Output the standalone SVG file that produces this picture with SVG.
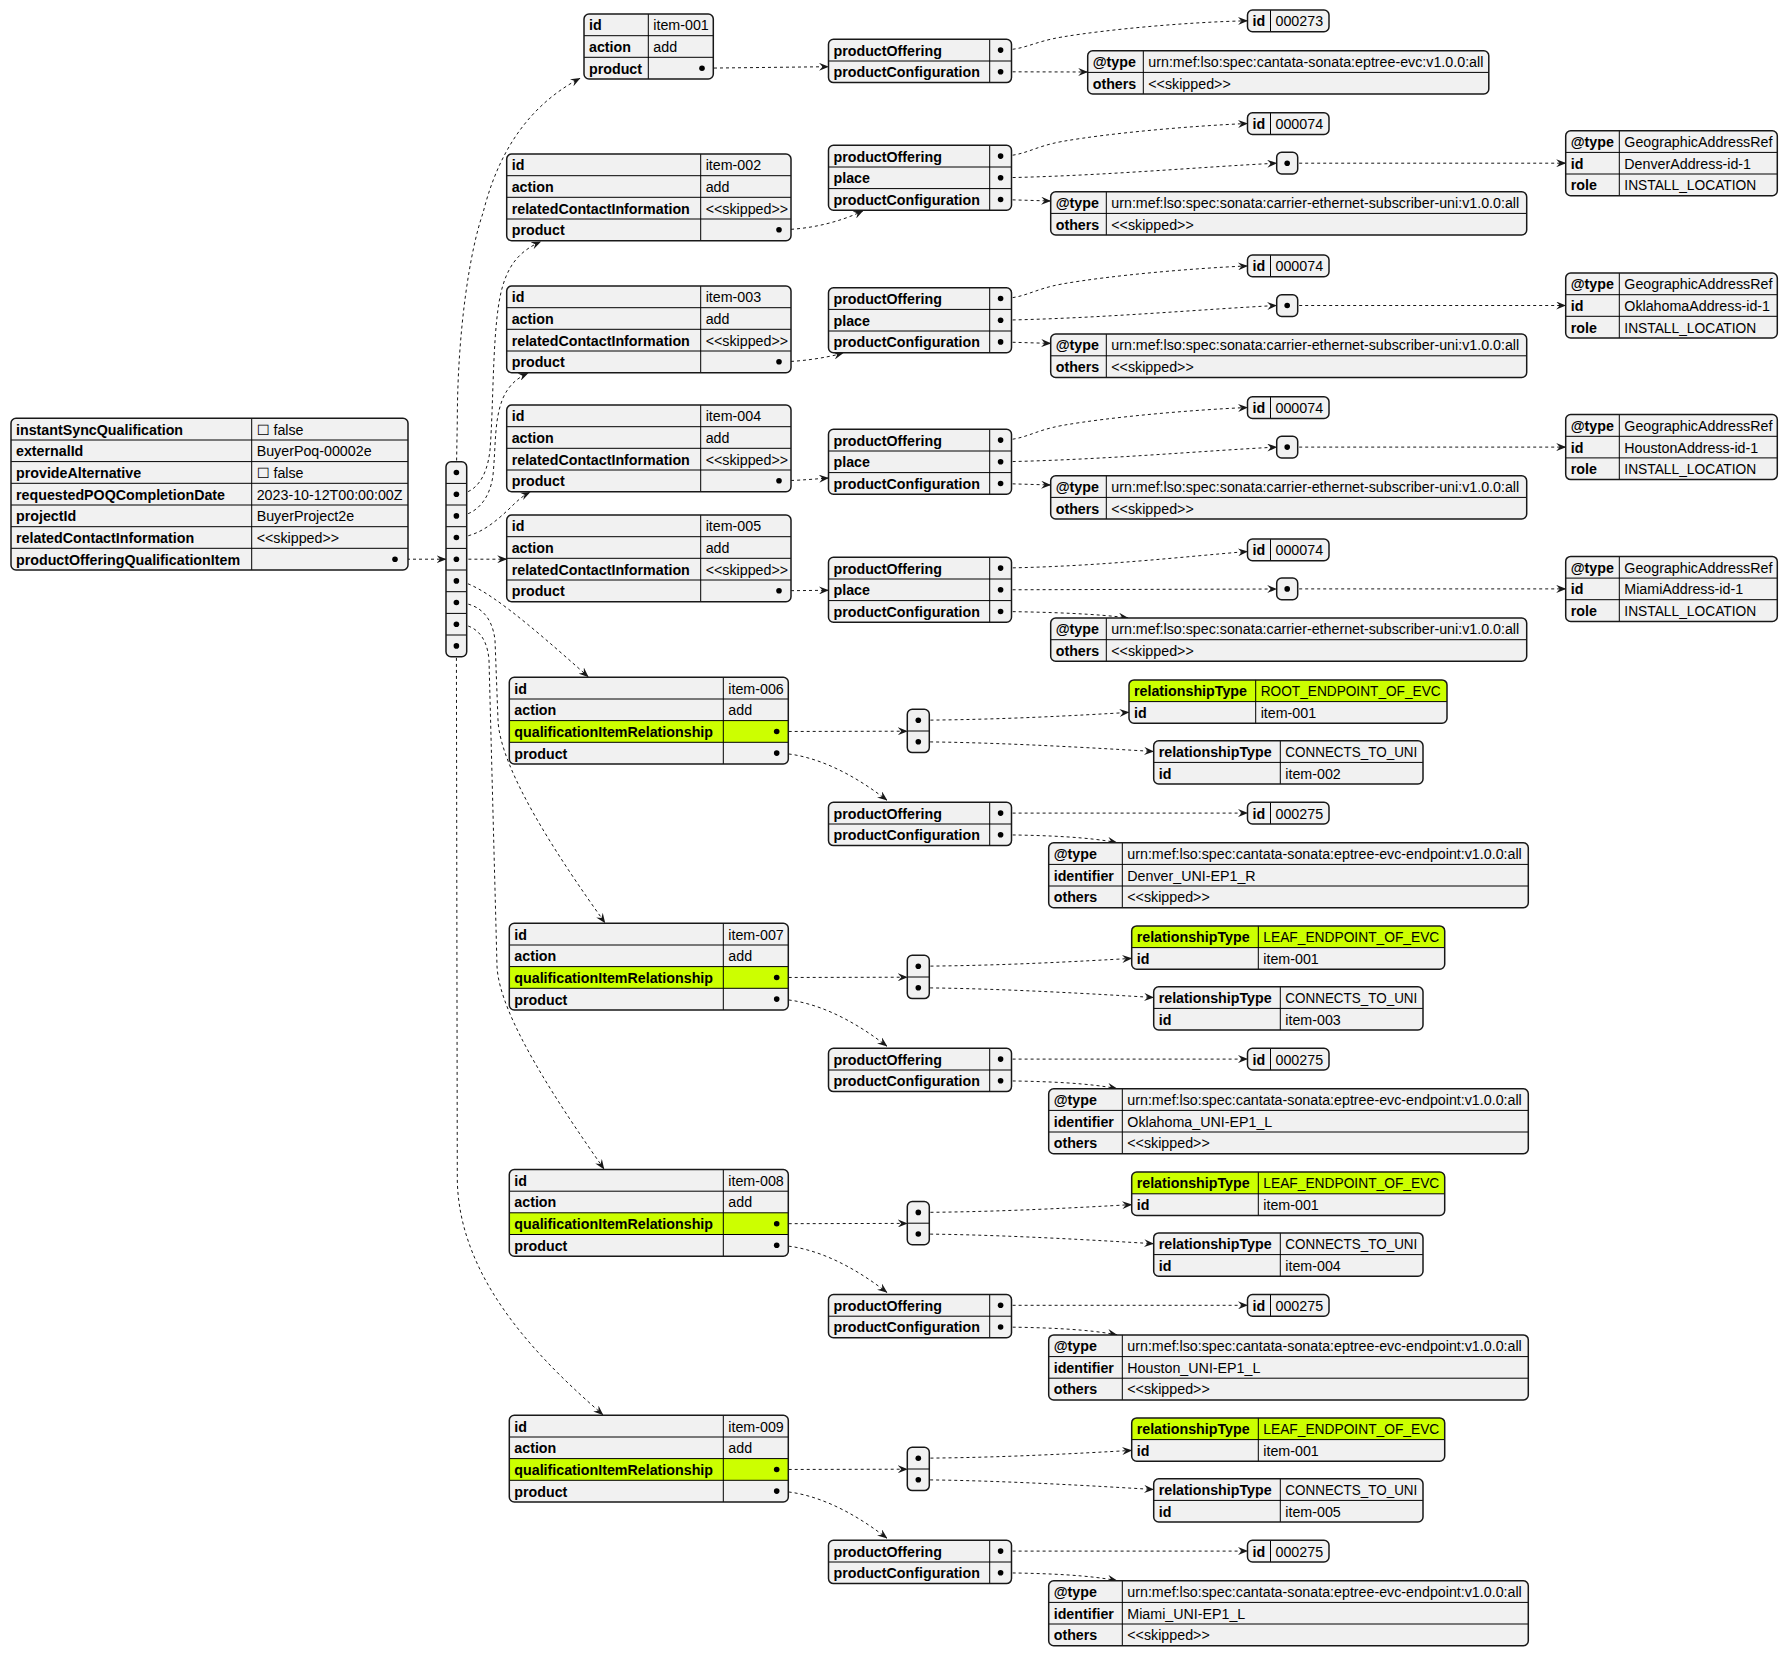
<svg xmlns="http://www.w3.org/2000/svg" width="1788" height="1656" viewBox="0 0 1788 1656">
<defs>
<style>
.bx{fill:#F1F1F1;stroke:none}
.bd{fill:none;stroke:#181818;stroke-width:1.5}
.ln{fill:none;stroke:#000;stroke-width:1}
.hl{fill:#CCFF00;stroke:none}
.k{font-family:"Liberation Sans",Arial,"DejaVu Sans",sans-serif;font-size:14.25px;font-weight:bold;fill:#000}
.v{font-family:"Liberation Sans",Arial,"DejaVu Sans",sans-serif;font-size:14.25px;fill:#000}
.e{fill:none;stroke:#181818;stroke-width:1;stroke-dasharray:3,3;marker-end:url(#ah)}
.d{fill:#000}
</style>
<marker id="ah" viewBox="0 0 10 8" refX="9.5" refY="4" markerWidth="10" markerHeight="8" orient="auto" markerUnits="userSpaceOnUse"><path d="M0,0 L10,4 L0,8 L3.5,4 Z" fill="#181818"/></marker>
</defs>
<rect width="1788" height="1656" fill="#FFFFFF"/>

<g id="connectors">
<path class="e" d="M395,559.2 L446,559.2"/>
<path class="e" d="M456.4,472.5 L457.3,420 C457.5,330 470,250 483,213 C495,165 520,110 580,78.3"/>
<path class="e" d="M456.4,494.2 C475,494 487,478 490,450 C494,400 492,320 503,285 C510,262 522,250 540.7,241.7"/>
<path class="e" d="M456.4,515.9 C475,516 490,500 493,475 C496,445 494,420 503,398 C509,385 517,378 528,373.3"/>
<path class="e" d="M456.4,537.5 C478,537 495,522 508,510 C515,503 522,496 530,492.2"/>
<path class="e" d="M456.4,559.2 L506.7,559.2"/>
<path class="e" d="M456.4,580.9 C480,582 530,625 588.3,676.8"/>
<path class="e" d="M456.4,602.5 C478,603 492,615 495,640 L498,720 C500,770 560,860 605,922.8"/>
<path class="e" d="M456.4,624.2 C474,624 487,635 489,660 L497,966 C499,1016 560,1106 604,1169"/>
<path class="e" d="M456.4,645.9 L457.3,1180 C459,1280 540,1360 603,1414.8"/>

<path class="e" d="M702,68.2 L828.5,66.7"/>
<path class="e" d="M1000.6,50.1 C1025,50 1032,42 1062,37 C1110,29 1190,22 1247.5,20.8"/>
<path class="e" d="M1000.6,71.8 L1087.7,72"/>

<path class="e" d="M779,229.8 C810,229.5 840,222 863,210.8"/>
<path class="e" d="M1000.6,156.1 C1025,156 1032,147 1062,141.5 C1110,133 1190,126 1247.5,123.5"/>
<path class="e" d="M1000.6,177.8 C1100,176 1200,167 1276.7,163.2"/>
<path class="e" d="M1000.6,199.5 L1050.7,201"/>
<path class="e" d="M1287.2,163.2 L1565.7,163.2"/>

<path class="e" d="M779,361.8 C800,361.8 825,358 843,353.2"/>
<path class="e" d="M1000.6,298.5 C1025,298.4 1032,289.5 1062,284 C1110,275.5 1190,268.5 1247.5,265.9"/>
<path class="e" d="M1000.6,320.2 C1100,318.4 1200,309.4 1276.7,305.5"/>
<path class="e" d="M1000.6,341.9 L1050.7,343.4"/>
<path class="e" d="M1287.2,305.5 L1565.7,305.5"/>

<path class="e" d="M779,480.8 C800,480.5 815,479 828.5,478"/>
<path class="e" d="M1000.6,440.1 C1025,440 1032,431 1062,425.5 C1110,417 1190,410 1247.5,407.5"/>
<path class="e" d="M1000.6,461.8 C1100,460 1200,451 1276.7,447.1"/>
<path class="e" d="M1000.6,483.5 L1050.7,485"/>
<path class="e" d="M1287.2,447.1 L1565.7,447.1"/>

<path class="e" d="M779,590.8 L828.5,590.3"/>
<path class="e" d="M1000.6,568.1 C1100,566.5 1180,557 1247.5,551.5"/>
<path class="e" d="M1000.6,589.8 L1276.7,589"/>
<path class="e" d="M1000.6,611.5 C1050,612 1100,614 1128,618"/>
<path class="e" d="M1287.2,588.9 L1565.7,588.9"/>

<path class="e" d="M776.7,731.5 L907.3,731.2"/>
<path class="e" d="M776.7,753.1 C815,753.8 855,775.3 887,800.3"/>
<path class="e" d="M918.3,720.2 C1000,719.8 1080,715.3 1129,712.4"/>
<path class="e" d="M918.3,741.8 C1000,742.3 1100,748.3 1153.7,751.5"/>
<path class="e" d="M1000.6,813.1 L1247.5,813.1"/>
<path class="e" d="M1000.6,834.8 C1050,835.3 1090,837.3 1117,842.7"/>

<path class="e" d="M776.7,977.5 L907.3,977.2"/>
<path class="e" d="M776.7,999.1 C815,999.8 855,1021.3 887,1046.3"/>
<path class="e" d="M918.3,966.2 C1000,965.8 1080,961.3 1131.7,958.4"/>
<path class="e" d="M918.3,987.8 C1000,988.3 1100,994.3 1153.7,997.5"/>
<path class="e" d="M1000.6,1059.1 L1247.5,1059.1"/>
<path class="e" d="M1000.6,1080.8 C1050,1081.3 1090,1083.3 1117,1088.7"/>

<path class="e" d="M776.7,1223.7 L907.3,1223.4"/>
<path class="e" d="M776.7,1245.3 C815,1246 855,1267.5 887,1292.5"/>
<path class="e" d="M918.3,1212.4 C1000,1212 1080,1207.5 1131.7,1204.6"/>
<path class="e" d="M918.3,1234 C1000,1234.5 1100,1240.5 1153.7,1243.7"/>
<path class="e" d="M1000.6,1305.3 L1247.5,1305.3"/>
<path class="e" d="M1000.6,1327 C1050,1327.5 1090,1329.5 1117,1334.9"/>

<path class="e" d="M776.7,1469.5 L907.3,1469.2"/>
<path class="e" d="M776.7,1491.1 C815,1491.8 855,1513.3 887,1538.3"/>
<path class="e" d="M918.3,1458.2 C1000,1457.8 1080,1453.3 1131.7,1450.4"/>
<path class="e" d="M918.3,1479.8 C1000,1480.3 1100,1486.3 1153.7,1489.5"/>
<path class="e" d="M1000.6,1551.1 L1247.5,1551.1"/>
<path class="e" d="M1000.6,1572.8 C1050,1573.3 1090,1575.3 1117,1580.7"/>
</g>

<g id="root">
<rect class="bx" x="11" y="418.3" width="397" height="151.7" rx="5"/>
<path class="ln" d="M11,440 H408 M11,461.6 H408 M11,483.3 H408 M11,505 H408 M11,526.7 H408 M11,548.3 H408 M251.7,418.3 V570"/>
<rect class="bd" x="11" y="418.3" width="397" height="151.7" rx="5"/>
<text class="k" x="16" y="434.5">instantSyncQualification</text><text class="v" x="256.7" y="434.5">☐ false</text>
<text class="k" x="16" y="456.2">externalId</text><text class="v" x="256.7" y="456.2">BuyerPoq-00002e</text>
<text class="k" x="16" y="477.8">provideAlternative</text><text class="v" x="256.7" y="477.8">☐ false</text>
<text class="k" x="16" y="499.5">requestedPOQCompletionDate</text><text class="v" x="256.7" y="499.5">2023-10-12T00:00:00Z</text>
<text class="k" x="16" y="521.2">projectId</text><text class="v" x="256.7" y="521.2">BuyerProject2e</text>
<text class="k" x="16" y="542.9">relatedContactInformation</text><text class="v" x="256.7" y="542.9">&lt;&lt;skipped&gt;&gt;</text>
<text class="k" x="16" y="564.5">productOfferingQualificationItem</text>
<circle class="d" cx="395" cy="559.2" r="2.8"/>
</g>

<g id="items-array">
<rect class="bx" x="446" y="461.7" width="20.7" height="195" rx="5"/>
<path class="ln" d="M446,483.4 H466.7 M446,505 H466.7 M446,526.7 H466.7 M446,548.4 H466.7 M446,570 H466.7 M446,591.7 H466.7 M446,613.4 H466.7 M446,635 H466.7"/>
<rect class="bd" x="446" y="461.7" width="20.7" height="195" rx="5"/>
<circle class="d" cx="456.4" cy="472.5" r="2.8"/><circle class="d" cx="456.4" cy="494.2" r="2.8"/><circle class="d" cx="456.4" cy="515.9" r="2.8"/>
<circle class="d" cx="456.4" cy="537.5" r="2.8"/><circle class="d" cx="456.4" cy="559.2" r="2.8"/><circle class="d" cx="456.4" cy="580.9" r="2.8"/>
<circle class="d" cx="456.4" cy="602.5" r="2.8"/><circle class="d" cx="456.4" cy="624.2" r="2.8"/><circle class="d" cx="456.4" cy="645.9" r="2.8"/>
</g>

<g id="item-001">
<rect class="bx" x="584" y="14" width="129.3" height="65" rx="5"/>
<path class="ln" d="M584,35.7 H713.3 M584,57.3 H713.3 M648.3,14 V79"/>
<rect class="bd" x="584" y="14" width="129.3" height="65" rx="5"/>
<text class="k" x="589" y="30.2">id</text><text class="v" x="653.3" y="30.2">item-001</text>
<text class="k" x="589" y="51.9">action</text><text class="v" x="653.3" y="51.9">add</text>
<text class="k" x="589" y="73.5">product</text>
<circle class="d" cx="702" cy="68.2" r="2.8"/>
</g>

<g id="item-002">
<rect class="bx" x="506.7" y="154" width="284.3" height="86.7" rx="5"/>
<path class="ln" d="M506.7,175.7 H791 M506.7,197.3 H791 M506.7,219 H791 M700.7,154 V240.7"/>
<rect class="bd" x="506.7" y="154" width="284.3" height="86.7" rx="5"/>
<text class="k" x="511.7" y="170.2">id</text><text class="v" x="705.7" y="170.2">item-002</text>
<text class="k" x="511.7" y="191.9">action</text><text class="v" x="705.7" y="191.9">add</text>
<text class="k" x="511.7" y="213.5">relatedContactInformation</text><text class="v" x="705.7" y="213.5">&lt;&lt;skipped&gt;&gt;</text>
<text class="k" x="511.7" y="235.2">product</text>
<circle class="d" cx="779" cy="229.8" r="2.8"/>
</g>

<g id="item-003">
<rect class="bx" x="506.7" y="286" width="284.3" height="86.7" rx="5"/>
<path class="ln" d="M506.7,307.7 H791 M506.7,329.3 H791 M506.7,351 H791 M700.7,286 V372.7"/>
<rect class="bd" x="506.7" y="286" width="284.3" height="86.7" rx="5"/>
<text class="k" x="511.7" y="302.2">id</text><text class="v" x="705.7" y="302.2">item-003</text>
<text class="k" x="511.7" y="323.9">action</text><text class="v" x="705.7" y="323.9">add</text>
<text class="k" x="511.7" y="345.5">relatedContactInformation</text><text class="v" x="705.7" y="345.5">&lt;&lt;skipped&gt;&gt;</text>
<text class="k" x="511.7" y="367.2">product</text>
<circle class="d" cx="779" cy="361.8" r="2.8"/>
</g>

<g id="item-004">
<rect class="bx" x="506.7" y="405" width="284.3" height="86.7" rx="5"/>
<path class="ln" d="M506.7,426.7 H791 M506.7,448.3 H791 M506.7,470 H791 M700.7,405 V491.7"/>
<rect class="bd" x="506.7" y="405" width="284.3" height="86.7" rx="5"/>
<text class="k" x="511.7" y="421.2">id</text><text class="v" x="705.7" y="421.2">item-004</text>
<text class="k" x="511.7" y="442.9">action</text><text class="v" x="705.7" y="442.9">add</text>
<text class="k" x="511.7" y="464.5">relatedContactInformation</text><text class="v" x="705.7" y="464.5">&lt;&lt;skipped&gt;&gt;</text>
<text class="k" x="511.7" y="486.2">product</text>
<circle class="d" cx="779" cy="480.8" r="2.8"/>
</g>

<g id="item-005">
<rect class="bx" x="506.7" y="515" width="284.3" height="86.7" rx="5"/>
<path class="ln" d="M506.7,536.7 H791 M506.7,558.3 H791 M506.7,580 H791 M700.7,515 V601.7"/>
<rect class="bd" x="506.7" y="515" width="284.3" height="86.7" rx="5"/>
<text class="k" x="511.7" y="531.2">id</text><text class="v" x="705.7" y="531.2">item-005</text>
<text class="k" x="511.7" y="552.9">action</text><text class="v" x="705.7" y="552.9">add</text>
<text class="k" x="511.7" y="574.5">relatedContactInformation</text><text class="v" x="705.7" y="574.5">&lt;&lt;skipped&gt;&gt;</text>
<text class="k" x="511.7" y="596.2">product</text>
<circle class="d" cx="779" cy="590.8" r="2.8"/>
</g>

<g id="item-006">
<rect class="bx" x="509.3" y="677.3" width="279" height="86.7" rx="5"/>
<rect class="hl" x="509.3" y="720.6" width="279" height="21.7"/>
<path class="ln" d="M509.3,699 H788.3 M509.3,720.6 H788.3 M509.3,742.3 H788.3 M723.3,677.3 V764"/>
<rect class="bd" x="509.3" y="677.3" width="279" height="86.7" rx="5"/>
<text class="k" x="514.3" y="693.5">id</text><text class="v" x="728.3" y="693.5">item-006</text>
<text class="k" x="514.3" y="715.2">action</text><text class="v" x="728.3" y="715.2">add</text>
<text class="k" x="514.3" y="736.8">qualificationItemRelationship</text>
<text class="k" x="514.3" y="758.5">product</text>
<circle class="d" cx="776.7" cy="731.5" r="2.8"/><circle class="d" cx="776.7" cy="753.1" r="2.8"/>
</g>

<g id="item-007">
<rect class="bx" x="509.3" y="923.3" width="279" height="86.7" rx="5"/>
<rect class="hl" x="509.3" y="966.6" width="279" height="21.7"/>
<path class="ln" d="M509.3,945 H788.3 M509.3,966.6 H788.3 M509.3,988.3 H788.3 M723.3,923.3 V1010"/>
<rect class="bd" x="509.3" y="923.3" width="279" height="86.7" rx="5"/>
<text class="k" x="514.3" y="939.5">id</text><text class="v" x="728.3" y="939.5">item-007</text>
<text class="k" x="514.3" y="961.2">action</text><text class="v" x="728.3" y="961.2">add</text>
<text class="k" x="514.3" y="982.8">qualificationItemRelationship</text>
<text class="k" x="514.3" y="1004.5">product</text>
<circle class="d" cx="776.7" cy="977.5" r="2.8"/><circle class="d" cx="776.7" cy="999.1" r="2.8"/>
</g>

<g id="item-008">
<rect class="bx" x="509.3" y="1169.5" width="279" height="86.7" rx="5"/>
<rect class="hl" x="509.3" y="1212.8" width="279" height="21.7"/>
<path class="ln" d="M509.3,1191.2 H788.3 M509.3,1212.8 H788.3 M509.3,1234.5 H788.3 M723.3,1169.5 V1256.2"/>
<rect class="bd" x="509.3" y="1169.5" width="279" height="86.7" rx="5"/>
<text class="k" x="514.3" y="1185.7">id</text><text class="v" x="728.3" y="1185.7">item-008</text>
<text class="k" x="514.3" y="1207.4">action</text><text class="v" x="728.3" y="1207.4">add</text>
<text class="k" x="514.3" y="1229">qualificationItemRelationship</text>
<text class="k" x="514.3" y="1250.7">product</text>
<circle class="d" cx="776.7" cy="1223.7" r="2.8"/><circle class="d" cx="776.7" cy="1245.3" r="2.8"/>
</g>

<g id="item-009">
<rect class="bx" x="509.3" y="1415.3" width="279" height="86.7" rx="5"/>
<rect class="hl" x="509.3" y="1458.6" width="279" height="21.7"/>
<path class="ln" d="M509.3,1437 H788.3 M509.3,1458.6 H788.3 M509.3,1480.3 H788.3 M723.3,1415.3 V1502"/>
<rect class="bd" x="509.3" y="1415.3" width="279" height="86.7" rx="5"/>
<text class="k" x="514.3" y="1431.5">id</text><text class="v" x="728.3" y="1431.5">item-009</text>
<text class="k" x="514.3" y="1453.2">action</text><text class="v" x="728.3" y="1453.2">add</text>
<text class="k" x="514.3" y="1474.8">qualificationItemRelationship</text>
<text class="k" x="514.3" y="1496.5">product</text>
<circle class="d" cx="776.7" cy="1469.5" r="2.8"/><circle class="d" cx="776.7" cy="1491.1" r="2.8"/>
</g>

<g id="product-001">
<rect class="bx" x="828.5" y="39.3" width="183" height="43.3" rx="5"/>
<path class="ln" d="M828.5,61 H1011.5 M989.7,39.3 V82.6"/>
<rect class="bd" x="828.5" y="39.3" width="183" height="43.3" rx="5"/>
<text class="k" x="833.5" y="55.5">productOffering</text><text class="k" x="833.5" y="77.2">productConfiguration</text>
<circle class="d" cx="1000.6" cy="50.1" r="2.8"/><circle class="d" cx="1000.6" cy="71.8" r="2.8"/>
</g>

<g id="product-002">
<rect class="bx" x="828.5" y="145.3" width="183" height="65" rx="5"/>
<path class="ln" d="M828.5,167 H1011.5 M828.5,188.6 H1011.5 M989.7,145.3 V210.3"/>
<rect class="bd" x="828.5" y="145.3" width="183" height="65" rx="5"/>
<text class="k" x="833.5" y="161.5">productOffering</text><text class="k" x="833.5" y="183.2">place</text><text class="k" x="833.5" y="204.8">productConfiguration</text>
<circle class="d" cx="1000.6" cy="156.1" r="2.8"/><circle class="d" cx="1000.6" cy="177.8" r="2.8"/><circle class="d" cx="1000.6" cy="199.5" r="2.8"/>
</g>

<g id="product-003">
<rect class="bx" x="828.5" y="287.7" width="183" height="65" rx="5"/>
<path class="ln" d="M828.5,309.4 H1011.5 M828.5,331 H1011.5 M989.7,287.7 V352.7"/>
<rect class="bd" x="828.5" y="287.7" width="183" height="65" rx="5"/>
<text class="k" x="833.5" y="303.9">productOffering</text><text class="k" x="833.5" y="325.6">place</text><text class="k" x="833.5" y="347.2">productConfiguration</text>
<circle class="d" cx="1000.6" cy="298.5" r="2.8"/><circle class="d" cx="1000.6" cy="320.2" r="2.8"/><circle class="d" cx="1000.6" cy="341.9" r="2.8"/>
</g>

<g id="product-004">
<rect class="bx" x="828.5" y="429.3" width="183" height="65" rx="5"/>
<path class="ln" d="M828.5,451 H1011.5 M828.5,472.6 H1011.5 M989.7,429.3 V494.3"/>
<rect class="bd" x="828.5" y="429.3" width="183" height="65" rx="5"/>
<text class="k" x="833.5" y="445.5">productOffering</text><text class="k" x="833.5" y="467.2">place</text><text class="k" x="833.5" y="488.8">productConfiguration</text>
<circle class="d" cx="1000.6" cy="440.1" r="2.8"/><circle class="d" cx="1000.6" cy="461.8" r="2.8"/><circle class="d" cx="1000.6" cy="483.5" r="2.8"/>
</g>

<g id="product-005">
<rect class="bx" x="828.5" y="557.3" width="183" height="65" rx="5"/>
<path class="ln" d="M828.5,579 H1011.5 M828.5,600.6 H1011.5 M989.7,557.3 V622.3"/>
<rect class="bd" x="828.5" y="557.3" width="183" height="65" rx="5"/>
<text class="k" x="833.5" y="573.5">productOffering</text><text class="k" x="833.5" y="595.2">place</text><text class="k" x="833.5" y="616.8">productConfiguration</text>
<circle class="d" cx="1000.6" cy="568.1" r="2.8"/><circle class="d" cx="1000.6" cy="589.8" r="2.8"/><circle class="d" cx="1000.6" cy="611.5" r="2.8"/>
</g>

<g id="product-006">
<rect class="bx" x="828.5" y="802.3" width="183" height="43.3" rx="5"/>
<path class="ln" d="M828.5,824 H1011.5 M989.7,802.3 V845.6"/>
<rect class="bd" x="828.5" y="802.3" width="183" height="43.3" rx="5"/>
<text class="k" x="833.5" y="818.5">productOffering</text><text class="k" x="833.5" y="840.2">productConfiguration</text>
<circle class="d" cx="1000.6" cy="813.1" r="2.8"/><circle class="d" cx="1000.6" cy="834.8" r="2.8"/>
</g>

<g id="product-007">
<rect class="bx" x="828.5" y="1048.3" width="183" height="43.3" rx="5"/>
<path class="ln" d="M828.5,1070 H1011.5 M989.7,1048.3 V1091.6"/>
<rect class="bd" x="828.5" y="1048.3" width="183" height="43.3" rx="5"/>
<text class="k" x="833.5" y="1064.5">productOffering</text><text class="k" x="833.5" y="1086.2">productConfiguration</text>
<circle class="d" cx="1000.6" cy="1059.1" r="2.8"/><circle class="d" cx="1000.6" cy="1080.8" r="2.8"/>
</g>

<g id="product-008">
<rect class="bx" x="828.5" y="1294.5" width="183" height="43.3" rx="5"/>
<path class="ln" d="M828.5,1316.2 H1011.5 M989.7,1294.5 V1337.8"/>
<rect class="bd" x="828.5" y="1294.5" width="183" height="43.3" rx="5"/>
<text class="k" x="833.5" y="1310.7">productOffering</text><text class="k" x="833.5" y="1332.4">productConfiguration</text>
<circle class="d" cx="1000.6" cy="1305.3" r="2.8"/><circle class="d" cx="1000.6" cy="1327" r="2.8"/>
</g>

<g id="product-009">
<rect class="bx" x="828.5" y="1540.3" width="183" height="43.3" rx="5"/>
<path class="ln" d="M828.5,1562 H1011.5 M989.7,1540.3 V1583.6"/>
<rect class="bd" x="828.5" y="1540.3" width="183" height="43.3" rx="5"/>
<text class="k" x="833.5" y="1556.5">productOffering</text><text class="k" x="833.5" y="1578.2">productConfiguration</text>
<circle class="d" cx="1000.6" cy="1551.1" r="2.8"/><circle class="d" cx="1000.6" cy="1572.8" r="2.8"/>
</g>

<g id="offering-001"><rect class="bx" x="1247.5" y="10" width="81.5" height="21.7" rx="5"/><path class="ln" d="M1270.5,10 V31.7"/><rect class="bd" x="1247.5" y="10" width="81.5" height="21.7" rx="5"/><text class="k" x="1252.5" y="26.2">id</text><text class="v" x="1275.5" y="26.2">000273</text></g>
<g id="offering-002"><rect class="bx" x="1247.5" y="112.7" width="81.5" height="21.7" rx="5"/><path class="ln" d="M1270.5,112.7 V134.4"/><rect class="bd" x="1247.5" y="112.7" width="81.5" height="21.7" rx="5"/><text class="k" x="1252.5" y="128.9">id</text><text class="v" x="1275.5" y="128.9">000074</text></g>
<g id="offering-003"><rect class="bx" x="1247.5" y="255.1" width="81.5" height="21.7" rx="5"/><path class="ln" d="M1270.5,255.1 V276.8"/><rect class="bd" x="1247.5" y="255.1" width="81.5" height="21.7" rx="5"/><text class="k" x="1252.5" y="271.3">id</text><text class="v" x="1275.5" y="271.3">000074</text></g>
<g id="offering-004"><rect class="bx" x="1247.5" y="396.7" width="81.5" height="21.7" rx="5"/><path class="ln" d="M1270.5,396.7 V418.4"/><rect class="bd" x="1247.5" y="396.7" width="81.5" height="21.7" rx="5"/><text class="k" x="1252.5" y="412.9">id</text><text class="v" x="1275.5" y="412.9">000074</text></g>
<g id="offering-005"><rect class="bx" x="1247.5" y="539" width="81.5" height="21.7" rx="5"/><path class="ln" d="M1270.5,539 V560.7"/><rect class="bd" x="1247.5" y="539" width="81.5" height="21.7" rx="5"/><text class="k" x="1252.5" y="555.2">id</text><text class="v" x="1275.5" y="555.2">000074</text></g>
<g id="offering-006"><rect class="bx" x="1247.5" y="802.3" width="81.5" height="21.7" rx="5"/><path class="ln" d="M1270.5,802.3 V824"/><rect class="bd" x="1247.5" y="802.3" width="81.5" height="21.7" rx="5"/><text class="k" x="1252.5" y="818.5">id</text><text class="v" x="1275.5" y="818.5">000275</text></g>
<g id="offering-007"><rect class="bx" x="1247.5" y="1048.3" width="81.5" height="21.7" rx="5"/><path class="ln" d="M1270.5,1048.3 V1070"/><rect class="bd" x="1247.5" y="1048.3" width="81.5" height="21.7" rx="5"/><text class="k" x="1252.5" y="1064.5">id</text><text class="v" x="1275.5" y="1064.5">000275</text></g>
<g id="offering-008"><rect class="bx" x="1247.5" y="1294.5" width="81.5" height="21.7" rx="5"/><path class="ln" d="M1270.5,1294.5 V1316.2"/><rect class="bd" x="1247.5" y="1294.5" width="81.5" height="21.7" rx="5"/><text class="k" x="1252.5" y="1310.7">id</text><text class="v" x="1275.5" y="1310.7">000275</text></g>
<g id="offering-009"><rect class="bx" x="1247.5" y="1540.3" width="81.5" height="21.7" rx="5"/><path class="ln" d="M1270.5,1540.3 V1562"/><rect class="bd" x="1247.5" y="1540.3" width="81.5" height="21.7" rx="5"/><text class="k" x="1252.5" y="1556.5">id</text><text class="v" x="1275.5" y="1556.5">000275</text></g>

<g id="place-002"><rect class="bx" x="1276.7" y="152.3" width="21" height="21.7" rx="5"/><rect class="bd" x="1276.7" y="152.3" width="21" height="21.7" rx="5"/><circle class="d" cx="1287.2" cy="163.2" r="2.8"/></g>
<g id="place-003"><rect class="bx" x="1276.7" y="294.7" width="21" height="21.7" rx="5"/><rect class="bd" x="1276.7" y="294.7" width="21" height="21.7" rx="5"/><circle class="d" cx="1287.2" cy="305.5" r="2.8"/></g>
<g id="place-004"><rect class="bx" x="1276.7" y="436.3" width="21" height="21.7" rx="5"/><rect class="bd" x="1276.7" y="436.3" width="21" height="21.7" rx="5"/><circle class="d" cx="1287.2" cy="447.1" r="2.8"/></g>
<g id="place-005"><rect class="bx" x="1276.7" y="578.1" width="21" height="21.7" rx="5"/><rect class="bd" x="1276.7" y="578.1" width="21" height="21.7" rx="5"/><circle class="d" cx="1287.2" cy="588.9" r="2.8"/></g>

<g id="address-002">
<rect class="bx" x="1565.7" y="130.7" width="211.6" height="65" rx="5"/>
<path class="ln" d="M1565.7,152.4 H1777.3 M1565.7,174 H1777.3 M1619.3,130.7 V195.7"/>
<rect class="bd" x="1565.7" y="130.7" width="211.6" height="65" rx="5"/>
<text class="k" x="1570.7" y="146.9">@type</text><text class="v" x="1624.3" y="146.9">GeographicAddressRef</text>
<text class="k" x="1570.7" y="168.6">id</text><text class="v" x="1624.3" y="168.6">DenverAddress-id-1</text>
<text class="k" x="1570.7" y="190.2">role</text><text class="v" x="1624.3" y="190.2" textLength="132" lengthAdjust="spacingAndGlyphs">INSTALL_LOCATION</text>
</g>
<g id="address-003">
<rect class="bx" x="1565.7" y="273" width="211.6" height="65" rx="5"/>
<path class="ln" d="M1565.7,294.7 H1777.3 M1565.7,316.3 H1777.3 M1619.3,273 V338"/>
<rect class="bd" x="1565.7" y="273" width="211.6" height="65" rx="5"/>
<text class="k" x="1570.7" y="289.2">@type</text><text class="v" x="1624.3" y="289.2">GeographicAddressRef</text>
<text class="k" x="1570.7" y="310.9">id</text><text class="v" x="1624.3" y="310.9">OklahomaAddress-id-1</text>
<text class="k" x="1570.7" y="332.5">role</text><text class="v" x="1624.3" y="332.5" textLength="132" lengthAdjust="spacingAndGlyphs">INSTALL_LOCATION</text>
</g>
<g id="address-004">
<rect class="bx" x="1565.7" y="414.6" width="211.6" height="65" rx="5"/>
<path class="ln" d="M1565.7,436.3 H1777.3 M1565.7,457.9 H1777.3 M1619.3,414.6 V479.6"/>
<rect class="bd" x="1565.7" y="414.6" width="211.6" height="65" rx="5"/>
<text class="k" x="1570.7" y="430.8">@type</text><text class="v" x="1624.3" y="430.8">GeographicAddressRef</text>
<text class="k" x="1570.7" y="452.5">id</text><text class="v" x="1624.3" y="452.5">HoustonAddress-id-1</text>
<text class="k" x="1570.7" y="474.1">role</text><text class="v" x="1624.3" y="474.1" textLength="132" lengthAdjust="spacingAndGlyphs">INSTALL_LOCATION</text>
</g>
<g id="address-005">
<rect class="bx" x="1565.7" y="556.4" width="211.6" height="65" rx="5"/>
<path class="ln" d="M1565.7,578.1 H1777.3 M1565.7,599.7 H1777.3 M1619.3,556.4 V621.4"/>
<rect class="bd" x="1565.7" y="556.4" width="211.6" height="65" rx="5"/>
<text class="k" x="1570.7" y="572.6">@type</text><text class="v" x="1624.3" y="572.6">GeographicAddressRef</text>
<text class="k" x="1570.7" y="594.3">id</text><text class="v" x="1624.3" y="594.3">MiamiAddress-id-1</text>
<text class="k" x="1570.7" y="615.9">role</text><text class="v" x="1624.3" y="615.9" textLength="132" lengthAdjust="spacingAndGlyphs">INSTALL_LOCATION</text>
</g>

<g id="config-001">
<rect class="bx" x="1087.7" y="50.7" width="401.1" height="43.3" rx="5"/>
<path class="ln" d="M1087.7,72.4 H1488.8 M1143.3,50.7 V94"/>
<rect class="bd" x="1087.7" y="50.7" width="401.1" height="43.3" rx="5"/>
<text class="k" x="1092.7" y="66.9">@type</text><text class="v" x="1148.3" y="66.9">urn:mef:lso:spec:cantata-sonata:eptree-evc:v1.0.0:all</text>
<text class="k" x="1092.7" y="88.6">others</text><text class="v" x="1148.3" y="88.6">&lt;&lt;skipped&gt;&gt;</text>
</g>
<g id="config-002">
<rect class="bx" x="1050.7" y="191.7" width="476" height="43.3" rx="5"/>
<path class="ln" d="M1050.7,213.4 H1526.7 M1106.3,191.7 V235"/>
<rect class="bd" x="1050.7" y="191.7" width="476" height="43.3" rx="5"/>
<text class="k" x="1055.7" y="207.9">@type</text><text class="v" x="1111.3" y="207.9">urn:mef:lso:spec:sonata:carrier-ethernet-subscriber-uni:v1.0.0:all</text>
<text class="k" x="1055.7" y="229.6">others</text><text class="v" x="1111.3" y="229.6">&lt;&lt;skipped&gt;&gt;</text>
</g>
<g id="config-003">
<rect class="bx" x="1050.7" y="334.1" width="476" height="43.3" rx="5"/>
<path class="ln" d="M1050.7,355.8 H1526.7 M1106.3,334.1 V377.4"/>
<rect class="bd" x="1050.7" y="334.1" width="476" height="43.3" rx="5"/>
<text class="k" x="1055.7" y="350.3">@type</text><text class="v" x="1111.3" y="350.3">urn:mef:lso:spec:sonata:carrier-ethernet-subscriber-uni:v1.0.0:all</text>
<text class="k" x="1055.7" y="372">others</text><text class="v" x="1111.3" y="372">&lt;&lt;skipped&gt;&gt;</text>
</g>
<g id="config-004">
<rect class="bx" x="1050.7" y="475.7" width="476" height="43.3" rx="5"/>
<path class="ln" d="M1050.7,497.4 H1526.7 M1106.3,475.7 V519"/>
<rect class="bd" x="1050.7" y="475.7" width="476" height="43.3" rx="5"/>
<text class="k" x="1055.7" y="491.9">@type</text><text class="v" x="1111.3" y="491.9">urn:mef:lso:spec:sonata:carrier-ethernet-subscriber-uni:v1.0.0:all</text>
<text class="k" x="1055.7" y="513.6">others</text><text class="v" x="1111.3" y="513.6">&lt;&lt;skipped&gt;&gt;</text>
</g>
<g id="config-005">
<rect class="bx" x="1050.7" y="618" width="476" height="43.3" rx="5"/>
<path class="ln" d="M1050.7,639.7 H1526.7 M1106.3,618 V661.3"/>
<rect class="bd" x="1050.7" y="618" width="476" height="43.3" rx="5"/>
<text class="k" x="1055.7" y="634.2">@type</text><text class="v" x="1111.3" y="634.2">urn:mef:lso:spec:sonata:carrier-ethernet-subscriber-uni:v1.0.0:all</text>
<text class="k" x="1055.7" y="655.9">others</text><text class="v" x="1111.3" y="655.9">&lt;&lt;skipped&gt;&gt;</text>
</g>

<g id="config-006">
<rect class="bx" x="1048.7" y="842.7" width="479.6" height="65" rx="5"/>
<path class="ln" d="M1048.7,864.4 H1528.3 M1048.7,886 H1528.3 M1122.3,842.7 V907.7"/>
<rect class="bd" x="1048.7" y="842.7" width="479.6" height="65" rx="5"/>
<text class="k" x="1053.7" y="858.9">@type</text><text class="v" x="1127.3" y="858.9">urn:mef:lso:spec:cantata-sonata:eptree-evc-endpoint:v1.0.0:all</text>
<text class="k" x="1053.7" y="880.6">identifier</text><text class="v" x="1127.3" y="880.6">Denver_UNI-EP1_R</text>
<text class="k" x="1053.7" y="902.2">others</text><text class="v" x="1127.3" y="902.2">&lt;&lt;skipped&gt;&gt;</text>
</g>
<g id="config-007">
<rect class="bx" x="1048.7" y="1088.7" width="479.6" height="65" rx="5"/>
<path class="ln" d="M1048.7,1110.4 H1528.3 M1048.7,1132 H1528.3 M1122.3,1088.7 V1153.7"/>
<rect class="bd" x="1048.7" y="1088.7" width="479.6" height="65" rx="5"/>
<text class="k" x="1053.7" y="1104.9">@type</text><text class="v" x="1127.3" y="1104.9">urn:mef:lso:spec:cantata-sonata:eptree-evc-endpoint:v1.0.0:all</text>
<text class="k" x="1053.7" y="1126.6">identifier</text><text class="v" x="1127.3" y="1126.6">Oklahoma_UNI-EP1_L</text>
<text class="k" x="1053.7" y="1148.2">others</text><text class="v" x="1127.3" y="1148.2">&lt;&lt;skipped&gt;&gt;</text>
</g>
<g id="config-008">
<rect class="bx" x="1048.7" y="1334.9" width="479.6" height="65" rx="5"/>
<path class="ln" d="M1048.7,1356.6 H1528.3 M1048.7,1378.2 H1528.3 M1122.3,1334.9 V1399.9"/>
<rect class="bd" x="1048.7" y="1334.9" width="479.6" height="65" rx="5"/>
<text class="k" x="1053.7" y="1351.1">@type</text><text class="v" x="1127.3" y="1351.1">urn:mef:lso:spec:cantata-sonata:eptree-evc-endpoint:v1.0.0:all</text>
<text class="k" x="1053.7" y="1372.8">identifier</text><text class="v" x="1127.3" y="1372.8">Houston_UNI-EP1_L</text>
<text class="k" x="1053.7" y="1394.4">others</text><text class="v" x="1127.3" y="1394.4">&lt;&lt;skipped&gt;&gt;</text>
</g>
<g id="config-009">
<rect class="bx" x="1048.7" y="1580.7" width="479.6" height="65" rx="5"/>
<path class="ln" d="M1048.7,1602.4 H1528.3 M1048.7,1624 H1528.3 M1122.3,1580.7 V1645.7"/>
<rect class="bd" x="1048.7" y="1580.7" width="479.6" height="65" rx="5"/>
<text class="k" x="1053.7" y="1596.9">@type</text><text class="v" x="1127.3" y="1596.9">urn:mef:lso:spec:cantata-sonata:eptree-evc-endpoint:v1.0.0:all</text>
<text class="k" x="1053.7" y="1618.6">identifier</text><text class="v" x="1127.3" y="1618.6">Miami_UNI-EP1_L</text>
<text class="k" x="1053.7" y="1640.2">others</text><text class="v" x="1127.3" y="1640.2">&lt;&lt;skipped&gt;&gt;</text>
</g>

<g id="relations-006"><rect class="bx" x="907.3" y="709.3" width="22" height="43.3" rx="5"/><path class="ln" d="M907.3,731 H929.3"/><rect class="bd" x="907.3" y="709.3" width="22" height="43.3" rx="5"/><circle class="d" cx="918.3" cy="720.2" r="2.8"/><circle class="d" cx="918.3" cy="741.8" r="2.8"/></g>
<g id="relations-007"><rect class="bx" x="907.3" y="955.3" width="22" height="43.3" rx="5"/><path class="ln" d="M907.3,977 H929.3"/><rect class="bd" x="907.3" y="955.3" width="22" height="43.3" rx="5"/><circle class="d" cx="918.3" cy="966.2" r="2.8"/><circle class="d" cx="918.3" cy="987.8" r="2.8"/></g>
<g id="relations-008"><rect class="bx" x="907.3" y="1201.5" width="22" height="43.3" rx="5"/><path class="ln" d="M907.3,1223.2 H929.3"/><rect class="bd" x="907.3" y="1201.5" width="22" height="43.3" rx="5"/><circle class="d" cx="918.3" cy="1212.4" r="2.8"/><circle class="d" cx="918.3" cy="1234" r="2.8"/></g>
<g id="relations-009"><rect class="bx" x="907.3" y="1447.3" width="22" height="43.3" rx="5"/><path class="ln" d="M907.3,1469 H929.3"/><rect class="bd" x="907.3" y="1447.3" width="22" height="43.3" rx="5"/><circle class="d" cx="918.3" cy="1458.2" r="2.8"/><circle class="d" cx="918.3" cy="1479.8" r="2.8"/></g>

<g id="endpoint-006">
<rect class="bx" x="1129" y="679.9" width="318" height="43.3" rx="5"/>
<path class="hl" d="M1129,701.6 V684.9 Q1129,679.9 1134,679.9 H1442 Q1447,679.9 1447,684.9 V701.6 Z"/>
<path class="ln" d="M1129,701.6 H1447 M1255.7,679.9 V723.2"/>
<rect class="bd" x="1129" y="679.9" width="318" height="43.3" rx="5"/>
<text class="k" x="1134" y="696.1">relationshipType</text><text class="v" x="1260.7" y="696.1" textLength="180" lengthAdjust="spacingAndGlyphs">ROOT_ENDPOINT_OF_EVC</text>
<text class="k" x="1134" y="717.8">id</text><text class="v" x="1260.7" y="717.8">item-001</text>
</g>
<g id="endpoint-007">
<rect class="bx" x="1131.7" y="925.9" width="313" height="43.3" rx="5"/>
<path class="hl" d="M1131.7,947.6 V930.9 Q1131.7,925.9 1136.7,925.9 H1439.7 Q1444.7,925.9 1444.7,930.9 V947.6 Z"/>
<path class="ln" d="M1131.7,947.6 H1444.7 M1258.3,925.9 V969.2"/>
<rect class="bd" x="1131.7" y="925.9" width="313" height="43.3" rx="5"/>
<text class="k" x="1136.7" y="942.1">relationshipType</text><text class="v" x="1263.3" y="942.1" textLength="176" lengthAdjust="spacingAndGlyphs">LEAF_ENDPOINT_OF_EVC</text>
<text class="k" x="1136.7" y="963.8">id</text><text class="v" x="1263.3" y="963.8">item-001</text>
</g>
<g id="endpoint-008">
<rect class="bx" x="1131.7" y="1172.1" width="313" height="43.3" rx="5"/>
<path class="hl" d="M1131.7,1193.8 V1177.1 Q1131.7,1172.1 1136.7,1172.1 H1439.7 Q1444.7,1172.1 1444.7,1177.1 V1193.8 Z"/>
<path class="ln" d="M1131.7,1193.8 H1444.7 M1258.3,1172.1 V1215.4"/>
<rect class="bd" x="1131.7" y="1172.1" width="313" height="43.3" rx="5"/>
<text class="k" x="1136.7" y="1188.3">relationshipType</text><text class="v" x="1263.3" y="1188.3" textLength="176" lengthAdjust="spacingAndGlyphs">LEAF_ENDPOINT_OF_EVC</text>
<text class="k" x="1136.7" y="1210">id</text><text class="v" x="1263.3" y="1210">item-001</text>
</g>
<g id="endpoint-009">
<rect class="bx" x="1131.7" y="1417.9" width="313" height="43.3" rx="5"/>
<path class="hl" d="M1131.7,1439.6 V1422.9 Q1131.7,1417.9 1136.7,1417.9 H1439.7 Q1444.7,1417.9 1444.7,1422.9 V1439.6 Z"/>
<path class="ln" d="M1131.7,1439.6 H1444.7 M1258.3,1417.9 V1461.2"/>
<rect class="bd" x="1131.7" y="1417.9" width="313" height="43.3" rx="5"/>
<text class="k" x="1136.7" y="1434.1">relationshipType</text><text class="v" x="1263.3" y="1434.1" textLength="176" lengthAdjust="spacingAndGlyphs">LEAF_ENDPOINT_OF_EVC</text>
<text class="k" x="1136.7" y="1455.8">id</text><text class="v" x="1263.3" y="1455.8">item-001</text>
</g>

<g id="uni-006">
<rect class="bx" x="1153.7" y="740.7" width="269.3" height="43.3" rx="5"/>
<path class="ln" d="M1153.7,762.4 H1423 M1280.3,740.7 V784"/>
<rect class="bd" x="1153.7" y="740.7" width="269.3" height="43.3" rx="5"/>
<text class="k" x="1158.7" y="756.9">relationshipType</text><text class="v" x="1285.3" y="756.9" textLength="132" lengthAdjust="spacingAndGlyphs">CONNECTS_TO_UNI</text>
<text class="k" x="1158.7" y="778.6">id</text><text class="v" x="1285.3" y="778.6">item-002</text>
</g>
<g id="uni-007">
<rect class="bx" x="1153.7" y="986.7" width="269.3" height="43.3" rx="5"/>
<path class="ln" d="M1153.7,1008.4 H1423 M1280.3,986.7 V1030"/>
<rect class="bd" x="1153.7" y="986.7" width="269.3" height="43.3" rx="5"/>
<text class="k" x="1158.7" y="1002.9">relationshipType</text><text class="v" x="1285.3" y="1002.9" textLength="132" lengthAdjust="spacingAndGlyphs">CONNECTS_TO_UNI</text>
<text class="k" x="1158.7" y="1024.6">id</text><text class="v" x="1285.3" y="1024.6">item-003</text>
</g>
<g id="uni-008">
<rect class="bx" x="1153.7" y="1232.9" width="269.3" height="43.3" rx="5"/>
<path class="ln" d="M1153.7,1254.6 H1423 M1280.3,1232.9 V1276.2"/>
<rect class="bd" x="1153.7" y="1232.9" width="269.3" height="43.3" rx="5"/>
<text class="k" x="1158.7" y="1249.1">relationshipType</text><text class="v" x="1285.3" y="1249.1" textLength="132" lengthAdjust="spacingAndGlyphs">CONNECTS_TO_UNI</text>
<text class="k" x="1158.7" y="1270.8">id</text><text class="v" x="1285.3" y="1270.8">item-004</text>
</g>
<g id="uni-009">
<rect class="bx" x="1153.7" y="1478.7" width="269.3" height="43.3" rx="5"/>
<path class="ln" d="M1153.7,1500.4 H1423 M1280.3,1478.7 V1522"/>
<rect class="bd" x="1153.7" y="1478.7" width="269.3" height="43.3" rx="5"/>
<text class="k" x="1158.7" y="1494.9">relationshipType</text><text class="v" x="1285.3" y="1494.9" textLength="132" lengthAdjust="spacingAndGlyphs">CONNECTS_TO_UNI</text>
<text class="k" x="1158.7" y="1516.6">id</text><text class="v" x="1285.3" y="1516.6">item-005</text>
</g>
</svg>
